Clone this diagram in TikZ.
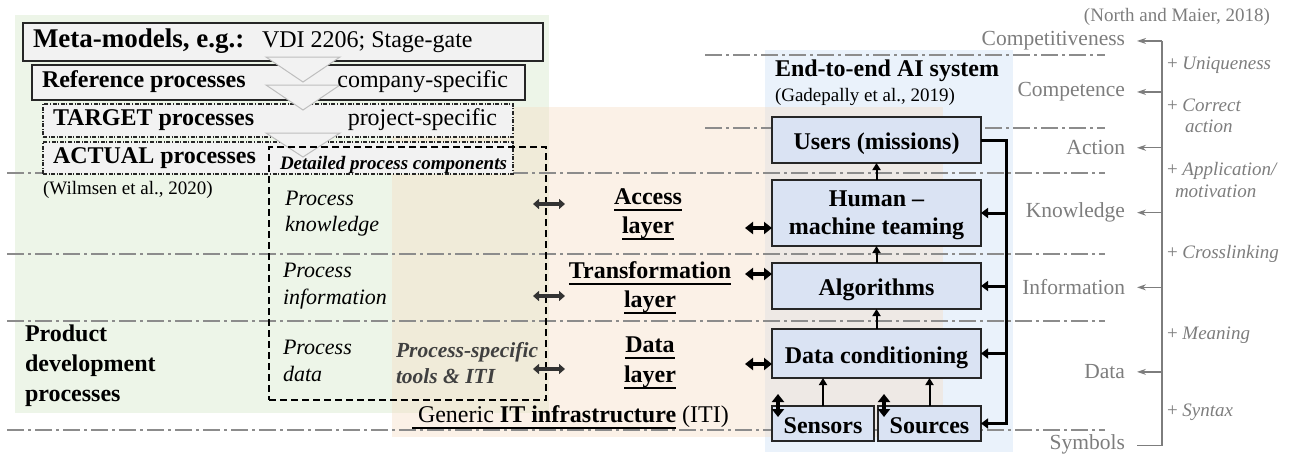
\documentclass[tikz,border=0pt]{standalone}
\usepackage{fontspec}
\setmainfont{Liberation Serif}
\usetikzlibrary{arrows.meta}

\definecolor{bggreen}{RGB}{237,245,232}
\definecolor{bgblue}{RGB}{234,242,251}
\definecolor{bgpeach}{RGB}{246,220,196}
\definecolor{boxfill}{RGB}{242,242,242}
\definecolor{aifill}{RGB}{218,227,243}
\definecolor{txtgray}{RGB}{125,125,125}
\definecolor{levelgray}{RGB}{140,140,140}
\definecolor{toolgray}{RGB}{64,64,64}
\definecolor{trigray}{RGB}{190,190,190}

% underline drawn just below the baseline
\newcommand\ulbox[1]{\setbox0\hbox{#1}\rlap{\rule[-6pt]{\wd0}{1.6pt}}\box0\relax}

\tikzset{
  t/.style={inner sep=0pt, outer sep=0pt, yshift=-2.5pt},
  tb/.style={inner sep=0pt, outer sep=0pt},
  fmeta/.style={font=\fontsize{27}{31}\selectfont\bfseries},
  fmain/.style={font=\fontsize{24}{28}\selectfont},
  fbold/.style={font=\fontsize{24}{28}\selectfont\bfseries},
  fcite/.style={font=\fontsize{19}{22}\selectfont},
  fsub/.style={font=\fontsize{22}{26}\selectfont\itshape},
  fdet/.style={font=\fontsize{19}{22}\selectfont\bfseries\itshape},
  ftools/.style={font=\fontsize{21.5}{26}\selectfont\bfseries\itshape, text=toolgray},
  flevel/.style={font=\fontsize{21.5}{25}\selectfont, text=txtgray},
  fgain/.style={font=\fontsize{19}{22}\selectfont, text=txtgray},
  procbox/.style={draw=black!85, line width=1.5pt, fill=boxfill, inner sep=0pt, outer sep=0pt},
  dotbox/.style={draw=black!85, line width=1.2pt, fill=boxfill,
    dash pattern=on 4pt off 1.6pt on 1pt off 1.6pt, inner sep=0pt, outer sep=0pt},
  compbox/.style={draw=black, line width=1.8pt, dash pattern=on 7pt off 4pt, inner sep=0pt, outer sep=0pt},
  aibox/.style={draw=black!85, line width=1.5pt, fill=aifill, inner sep=0pt, outer sep=0pt,
    font=\fontsize{24}{28}\selectfont\bfseries, text height=21pt, text depth=2pt},
  levelline/.style={draw=levelgray, line width=2pt, dash pattern=on 17pt off 4pt on 3pt off 4pt},
  flowtri/.style={fill=boxfill, draw=trigray, line width=1pt},
  grayarrow/.style={draw=txtgray, line width=1.3pt, -{Stealth[length=9pt,width=6pt]}},
  grayline/.style={draw=txtgray, line width=1.3pt},
  uparrow/.style={line width=2pt, -{Triangle[length=7pt,width=8pt]}},
  busarrow/.style={line width=3pt, -{Triangle[length=7pt,width=10pt]}},
  bigdbl/.style={line width=3.5pt, {Triangle[length=8pt,width=12pt]}-{Triangle[length=8pt,width=12pt]}},
  smalldbl/.style={draw=black!80, line width=3.2pt, {Triangle[length=6pt,width=10pt]}-{Triangle[length=6pt,width=10pt]}},
}

\begin{document}
\begin{tikzpicture}[x=1pt,y=-1pt]
\useasboundingbox (0,0) rectangle (1290,456);

% background areas
\fill[bggreen] (15,15) rectangle (549,413);
\fill[bgblue] (765,50) rectangle (1013,452);
\fill[bgpeach, fill opacity=0.4] (392,107) rectangle (943,437);

% knowledge-level separators
\foreach \yy in {173,254,321,430} \draw[levelline] (7,\yy) -- (1105,\yy);
\foreach \yy in {55,128} \draw[levelline] (705,\yy) -- (1105,\yy);

% process hierarchy
\node[procbox, anchor=north west, minimum width=520pt, minimum height=38pt] (meta) at (23,23) {};
\node[procbox, anchor=north west, minimum width=493pt, minimum height=35pt] (ref) at (32,65) {};
\node[dotbox, anchor=north west, minimum width=470pt, minimum height=33pt] (target) at (43,104) {};
\node[dotbox, anchor=north west, minimum width=470pt, minimum height=32pt] (actual) at (43,142) {};

\filldraw[flowtri] (266,57) -- (340,57) -- (303,82) -- cycle;
\filldraw[flowtri] (266,85) -- (340,85) -- (303,110) -- cycle;
\filldraw[flowtri] (266,133) -- (340,133) -- (303,157) -- cycle;

\node[compbox, anchor=north west, minimum width=277pt, minimum height=253pt] (components) at (269,147) {};

\node[t, fmeta, anchor=mid west] (metaA) at (33,43) {Meta-models, e.g.:};
\node[t, fmain, anchor=mid west] (metaB) at (262,43) {VDI 2206; Stage-gate};
\node[t, fbold, anchor=mid west] (refA) at (42,83) {Reference processes};
\node[t, fmain, anchor=mid east] (refB) at (508,83) {company-specific};
\node[t, fbold, anchor=mid west] (tgtA) at (53,121) {TARGET processes};
\node[t, fmain, anchor=mid east] (tgtB) at (497,121) {project-specific};
\node[t, fbold, anchor=mid west] (actA) at (53,159) {ACTUAL processes};
\node[t, fdet, anchor=mid west] (actB) at (280,165) {Detailed process components};
\node[t, fcite, anchor=mid west] (wilmsen) at (43,190) {(Wilmsen et al., 2020)};

\node[t, fbold, anchor=mid west] (pdp1) at (25,337) {Product};
\node[t, fbold, anchor=mid west] (pdp2) at (25,367) {development};
\node[t, fbold, anchor=mid west] (pdp3) at (25,397) {processes};

\node[t, fsub, anchor=mid west] (pk1) at (285,201) {Process};
\node[t, fsub, anchor=mid west] (pk2) at (285,227) {knowledge};
\node[t, fsub, anchor=mid west] (pi1) at (283,273) {Process};
\node[t, fsub, anchor=mid west] (pi2) at (283,300) {information};
\node[t, fsub, anchor=mid west] (pd1) at (283,350) {Process};
\node[t, fsub, anchor=mid west] (pd2) at (283,377) {data};

\node[t, ftools, anchor=mid west] (tools1) at (396,353) {Process-specific};
\node[t, ftools, anchor=mid west] (tools2) at (396,379) {tools \& ITI};

% IT layers
\node[t, fbold, anchor=mid] (acc1) at (648,200) {\ulbox{Access}};
\node[t, fbold, anchor=mid] (acc2) at (648,229) {\ulbox{layer}};
\node[t, fbold, anchor=mid] (tra1) at (650,274) {\ulbox{Transformation}};
\node[t, fbold, anchor=mid] (tra2) at (650,303) {\ulbox{layer}};
\node[t, fbold, anchor=mid] (dat1) at (650,348) {\ulbox{Data}};
\node[t, fbold, anchor=mid] (dat2) at (650,378) {\ulbox{layer}};
\node[t, fmain, anchor=mid west] (iti) at (412,418) {\ulbox{\ Generic \textbf{IT infrastructure}} (ITI)};

% AI system
\node[t, fbold, anchor=mid west] (aiTitle) at (775,72) {End-to-end AI system};
\node[t, fcite, anchor=mid west] (aiCite) at (775,97) {(Gadepally et al., 2019)};

\node[aibox, anchor=north west, minimum width=209pt, minimum height=46pt] (users) at (772,117) {Users (missions)};
\node[aibox, anchor=north west, minimum width=209pt, minimum height=66pt] (human) at (772,180) {};
\node[tb, fbold, anchor=base] (humanA) at (876.5,206.5) {Human --};
\node[tb, fbold, anchor=base] (humanB) at (876.5,234.5) {machine teaming};
\node[aibox, anchor=north west, minimum width=209pt, minimum height=46pt] (algo) at (772,263) {Algorithms};
\node[aibox, anchor=north west, minimum width=209pt, minimum height=49pt] (dc) at (772,329) {Data conditioning};
\node[aibox, anchor=north west, minimum width=102pt, minimum height=35pt] (sensors) at (772,406) {Sensors};
\node[aibox, anchor=north west, minimum width=103pt, minimum height=35pt] (sources) at (878,406) {Sources};

\draw[uparrow] (human.north) -- (users.south);
\draw[uparrow] (algo.north) -- (human.south);
\draw[uparrow] (dc.north) -- (algo.south);
\draw[uparrow] (sensors.north) -- (sensors.north |- dc.south);
\draw[uparrow] (sources.north) -- (sources.north |- dc.south);

\coordinate (busx) at (1006,0);
\draw[busarrow] (users.east) -- (users.east -| busx) |- (sources.east);
\draw[busarrow] (human.east -| busx) -- (human.east);
\draw[busarrow] (algo.east -| busx) -- (algo.east);
\draw[busarrow] (dc.east -| busx) -- (dc.east);

% exchange between layers and AI system
\coordinate (accLink) at (745,228);
\coordinate (traLink) at (745,274);
\coordinate (datLink) at (745,364);
\draw[bigdbl] (accLink) -- (accLink -| human.west);
\draw[bigdbl] (traLink) -- (traLink -| algo.west);
\draw[bigdbl] (datLink) -- (datLink -| dc.west);

\coordinate (kA) at (533,204); \coordinate (kB) at (565,204);
\coordinate (iA) at (533,296); \coordinate (iB) at (565,296);
\coordinate (dA) at (533,369); \coordinate (dB) at (565,369);
\draw[smalldbl] (kA) -- (kB);
\draw[smalldbl] (iA) -- (iB);
\draw[smalldbl] (dA) -- (dB);

\coordinate (senTop) at (778,394); \coordinate (senBot) at (778,417);
\coordinate (souTop) at (884,394); \coordinate (souBot) at (884,417);
\draw[bigdbl] (senTop) -- (senBot);
\draw[bigdbl] (souTop) -- (souBot);

% knowledge staircase
\node[t, fcite, text=txtgray, anchor=mid east] (north) at (1270,17) {(North and Maier, 2018)};
\node[t, flevel, anchor=mid east] (cpt) at (1125,41) {Competitiveness};
\node[t, flevel, anchor=mid east] (cpe) at (1125,92) {Competence};
\node[t, flevel, anchor=mid east] (act) at (1125,150) {Action};
\node[t, flevel, anchor=mid east] (kno) at (1125,213) {Knowledge};
\node[t, flevel, anchor=mid east] (inf) at (1125,290) {Information};
\node[t, flevel, anchor=mid east] (dat) at (1125,374) {Data};
\node[t, flevel, anchor=mid east] (sym) at (1125,445) {Symbols};

\coordinate (spine) at (1162,0);
\coordinate (symEnd) at ([xshift=12pt,yshift=-1pt]sym.east);
\draw[grayline] (cpt.east -| spine) -- (symEnd -| spine) -- (symEnd);
\foreach \n in {cpt,cpe,act,kno,inf,dat}
  \draw[grayarrow] (\n.east -| spine) -- ([xshift=12pt]\n.east);

\node[t, fgain, anchor=mid west] (g1) at (1167,65) {+ \textit{Uniqueness}};
\node[t, fgain, anchor=mid west] (g2a) at (1167,107) {+ \textit{Correct}};
\node[t, fgain, anchor=mid west] (g2b) at (1185,128) {\textit{action}};
\node[t, fgain, anchor=mid west] (g3a) at (1167,171) {+ \textit{Application/}};
\node[t, fgain, anchor=mid west] (g3b) at (1175,193) {\textit{motivation}};
\node[t, fgain, anchor=mid west] (g4) at (1167,254) {+ \textit{Crosslinking}};
\node[t, fgain, anchor=mid west] (g5) at (1167,335) {+ \textit{Meaning}};
\node[t, fgain, anchor=mid west] (g6) at (1167,412) {+ \textit{Syntax}};
\end{tikzpicture}
\end{document}
